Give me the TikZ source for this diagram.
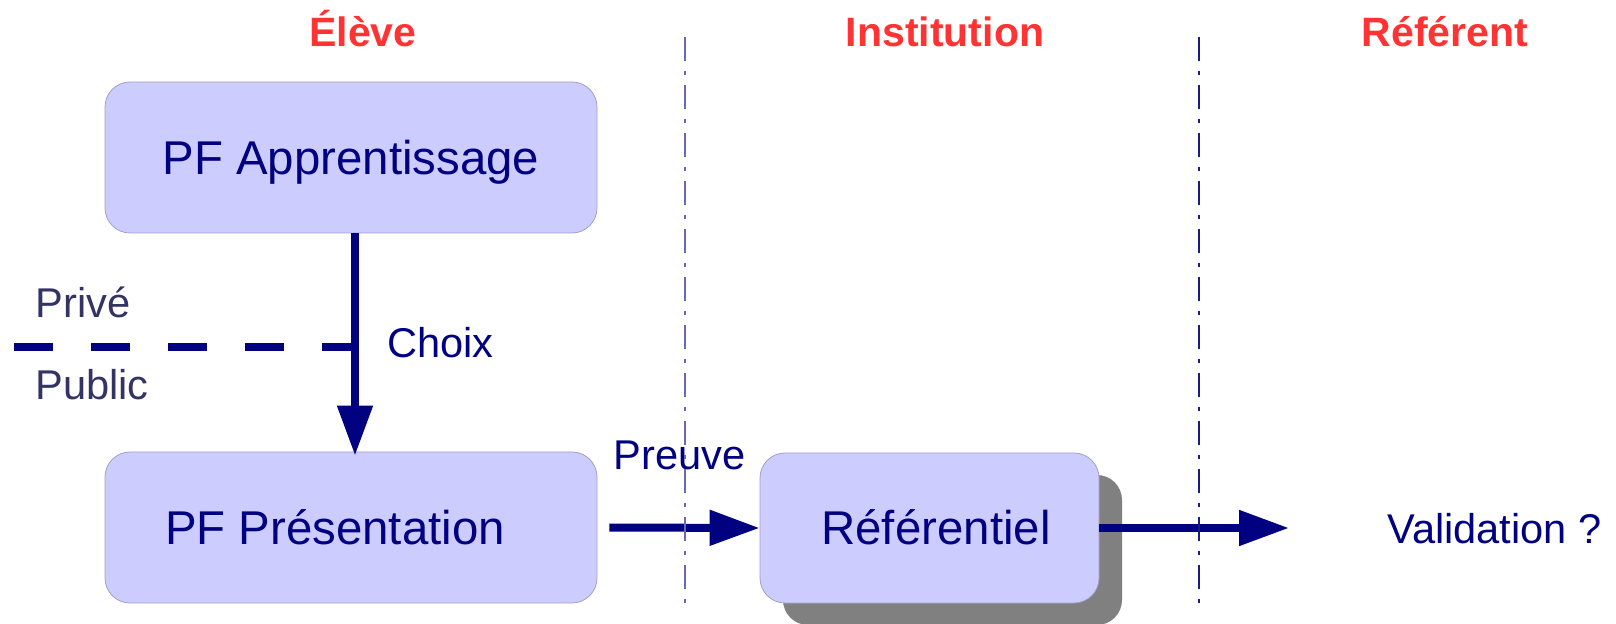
\documentclass[tikz,border=0pt]{standalone}
\usepackage{fontspec}
\setmainfont{Liberation Sans}
\usetikzlibrary{arrows.meta,shadows}
\definecolor{boxfill}{HTML}{CCCCFF}
\definecolor{boxline}{HTML}{A0A0C8}
\definecolor{navy}{HTML}{000080}
\definecolor{slate}{HTML}{333366}
\definecolor{hdr}{HTML}{FF3333}
\definecolor{sepA}{HTML}{6A6AB4}
\definecolor{sepB}{HTML}{1A1A80}
\definecolor{shadowgray}{HTML}{808080}
\begin{document}
\begin{tikzpicture}[x=0.5pt,y=-0.5pt,
  pfbox/.style={draw=boxline, line width=0.4pt, fill=boxfill, rounded corners=12.5pt,
    inner sep=0pt, text=navy, font=\fontsize{23.7}{28}\selectfont,
    text height=17pt, text depth=0pt},
  hdrtext/.style={text=hdr, font=\bfseries\fontsize{20.5}{24}\selectfont, anchor=base, inner sep=0pt},
  lbl/.style={text=navy, font=\fontsize{20.8}{24}\selectfont, anchor=base west, inner sep=0pt},
  sidelbl/.style={lbl, text=slate},
  arr/.style={draw=navy, line width=4pt, -{Triangle[length=25pt,width=17pt]}},
  sepline/.style={line width=0.75pt, dash pattern=on 12pt off 5pt on 2pt off 5pt},
  privline/.style={draw=navy, line width=4pt, dash pattern=on 19.5pt off 19pt}
]
\useasboundingbox (0,0) rectangle (1616,624);

% headers
\node[hdrtext] (hE) at (363,47) {Élève};
\node[hdrtext] (hI) at (945,47) {Institution};
\node[hdrtext] (hR) at (1445,47) {Référent};

% boxes
\node[pfbox, minimum width=246pt, minimum height=75.5pt] (app) at (351,157.5) {PF Apprentissage};
\node[pfbox, minimum width=246pt, minimum height=75.5pt] (pres) at (351,527.5) {\makebox[186pt][l]{PF Présentation}};
\node[pfbox, minimum width=169.5pt, minimum height=75pt,
  drop shadow={shadow xshift=11.5pt, shadow yshift=-11pt, fill=shadowgray, opacity=1}] (ref) at (929.5,528) {\hspace*{6.5pt}Référentiel};

% labels
\node[sidelbl] (priv) at (35,318) {Privé};
\node[sidelbl] (pub) at (35,400) {Public};
\node[lbl] (choix) at (387,358) {Choix};
\node[lbl] (preuve) at (613,470) {Preuve};
\node[lbl] (valid) at (1387,544) {Validation ?};

% connectors
\coordinate (ax) at ([xshift=2pt]app.south);
\coordinate (pl) at (14,347);
\draw[privline] (pl) -- (pl -| ax);
\draw[arr] (ax) -- ([xshift=2pt,yshift=-2pt]pres.north);
\draw[arr] ([xshift=6pt]pres.east) -- (ref.west);
\coordinate (vt) at (1289,528);
\draw[arr] (ref.east) -- (vt);

% separators
\coordinate (s1t) at (685,37);
\coordinate (s1b) at (685,603);
\coordinate (s2t) at (1199,37);
\coordinate (s2b) at (1199,603);
\draw[sepline, draw=sepA] (s1t) -- (s1b);
\draw[sepline, draw=sepB] (s2t) -- (s2b);
\end{tikzpicture}
\end{document}
